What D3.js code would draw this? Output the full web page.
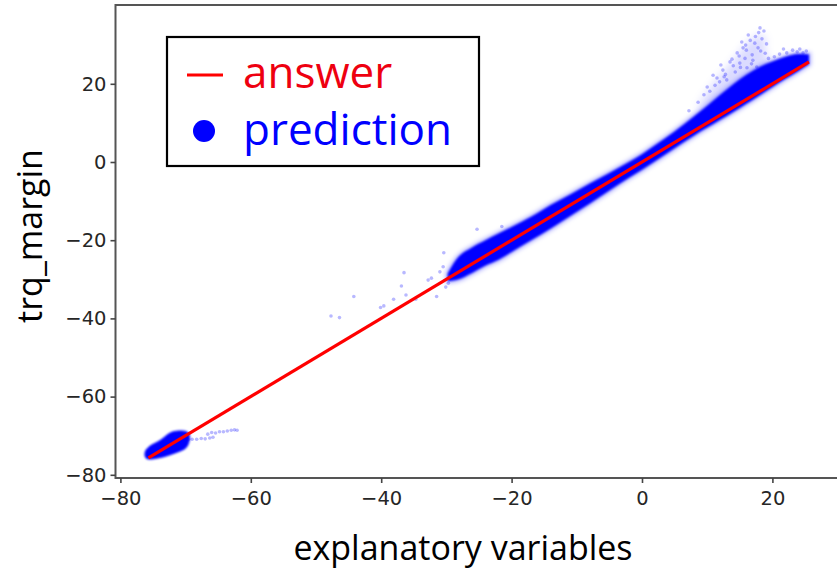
<!DOCTYPE html>
<html><head><meta charset="utf-8">
<script src="https://cdn.jsdelivr.net/npm/d3@7"></script>
<style>
  body { margin: 0; background: #fff; }
  .tick text { font-family: "DejaVu Sans", sans-serif; font-size: 19.5px; fill: #262626; }
  .tick line { stroke: #444; stroke-width: 1.6; }
  .lbl { font-family: "Open Sans", sans-serif; fill: #000; }
</style>
</head><body>
<svg id="chart" width="837" height="571"></svg>
<script>
// tick values
const xTicks = [-80, -60, -40, -20, 0, 20];
const yTicks = [-80, -60, -40, -20, 0, 20];

// "answer": the identity line
const answerX = [-75.7, 25.6];
const answerY = [-75.7, 25.6];

// dense prediction band: x with lower and upper envelope
const bandX    = [-29.8, -28.5, -26, -24, -22, -20, -17, -14, -11, -8, -5, -2, 0, 2, 5, 8, 10, 12, 14, 16, 18, 20, 22, 24, 25.6];
const bandLow  = [-30.5, -30.2, -28.3, -26.5, -25, -23, -20, -17, -13.8, -10.6, -7.3, -4, -2, 0.2, 3.5, 6.8, 8.8, 10.8, 12.8, 14.9, 17, 19.2, 21.3, 23.3, 25];
const bandHigh = [-28.5, -25, -21.8, -20, -18.3, -16.6, -14, -11, -8.3, -5.5, -2.8, 0, 2, 4.3, 7.8, 11.7, 14.4, 17.2, 19.9, 22.3, 24.3, 25.7, 26.9, 27.6, 27.5];

// cluster of predictions at the low end
const blobX = [-76.2, -75.5, -73.9, -72.1, -70.0, -69.4, -69.9, -71.6, -73.9, -75.9];
const blobY = [-74.2, -72.7, -71.2, -69.1, -68.9, -70.3, -73.0, -74.4, -75.6, -75.9];

// faint over-prediction wedge above the band
const sprayX = [8.5, 10.5, 12.5, 14.5, 16.2, 18.0, 18.9, 18.8, 19.5, 17.5, 14.5, 11];
const sprayY = [13.6, 19.0, 23.0, 27.0, 30.5, 32.5, 31.5, 28.5, 26.0, 23.5, 20, 15.2];

// individual sparse predictions
const scatterX = [
  16.3, 18.1, 18.7, 15.3, 17.3, 16, 14.6, 16.9, 13.5, 15, 12.4, 14.3, 17.6, 11.5, 13, 10.9, 10, 22.2, 23.8, 24.7,
  17.8, 15.8, 17, 14, 18.4, 16.6, 15.5, 12.8, 11.9, 9.5, 8.6, 7.2, 18.9, 19.4, 12.1, 16.1,
  15.9, 17.4, 18.2, 16.8, 14.9, 13.8, 19.1, 17.9, 15.1, 12.6, 11.2, 10.4, 20.3, 21.1, 23.1, 25.2, 21.7, 24.2,
  -47.7, -46.4, -44.2, -40.1, -39.6, -38.1, -36.9, -36.5, -36.2, -34.7, -32.8, -32.3, -31.5, -30.4, -30.1, -29.7, -25.3, -21.5, -30.5, -31.0,
  -69.6, -69.0, -68.3, -67.6, -67.0, -66.3, -65.8,
  -66.6, -66.0, -65.4, -64.8, -64.2, -63.6, -63.0, -62.5, -62.1
];
const scatterY = [
  32.5, 34.3, 33.5, 30.7, 30.4, 28.6, 27.9, 27.4, 25.6, 25.3, 23.5, 23, 24.3, 21.5, 21, 22.2, 19.2, 27.9, 28.2, 27.9,
  29.2, 26.5, 26, 24.6, 31.5, 31.1, 29.2, 22.4, 20.5, 17.2, 15.3, 13.1, 27.8, 26.5, 24.8, 24.1,
  29.9, 32.1, 28.4, 25.1, 27.1, 26.3, 30.2, 33.1, 24.2, 21.8, 19.6, 18.1, 26.9, 27.6, 28.6, 28.4, 28.9, 28.9,
  -39.4, -39.8, -34.4, -37.2, -36.8, -35.1, -31.7, -28.3, -34.0, -35.1, -30.2, -29.7, -34.4, -23.2, -32.0, -31.0, -17.2, -16.5, -26.8, -28.1,
  -71.0, -70.9, -70.9, -70.7, -70.8, -70.6, -70.4,
  -69.6, -69.2, -69.3, -69.0, -69.0, -68.8, -68.6, -68.5, -68.6
];

const svg = d3.select("#chart");
const x = d3.scaleLinear().domain([-80, 20]).range([120.4, 772.4]);
const y = d3.scaleLinear().domain([-80, 20]).range([474.8, 83.8]);

const frame = { left: 115.5, top: 5, right: 850, bottom: 478 };

const defs = svg.append("defs");
const addBlur = (id, sd) => defs.append("filter").attr("id", id)
  .attr("x", "-30%").attr("y", "-30%").attr("width", "160%").attr("height", "160%")
  .append("feGaussianBlur").attr("stdDeviation", sd);
addBlur("soft", 1.1);
addBlur("haze", 2.2);
addBlur("mist", 4.5);
addBlur("dot", 0.7);

const plot = svg.append("g");

// faint wedge
plot.append("path")
  .datum(d3.range(sprayX.length))
  .attr("d", d3.line().x(i => x(sprayX[i])).y(i => y(sprayY[i])).curve(d3.curveCardinalClosed))
  .attr("fill", "#0000ff").attr("fill-opacity", 0.14).attr("filter", "url(#mist)");

// band
const bandArea = d3.area()
  .x(i => x(bandX[i])).y0(i => y(bandLow[i])).y1(i => y(bandHigh[i]))
  .curve(d3.curveMonotoneX);
const idx = d3.range(bandX.length);
plot.append("path").datum(idx).attr("d", bandArea)
  .attr("fill", "#0000ff").attr("fill-opacity", 0.25)
  .attr("stroke", "#0000ff").attr("stroke-opacity", 0.22).attr("stroke-width", 5)
  .attr("filter", "url(#haze)");
plot.append("path").datum(idx).attr("d", bandArea)
  .attr("fill", "#0000ff").attr("filter", "url(#soft)");

// low-end cluster
plot.append("path")
  .datum(d3.range(blobX.length))
  .attr("d", d3.line().x(i => x(blobX[i])).y(i => y(blobY[i])).curve(d3.curveCardinalClosed))
  .attr("fill", "#0000ff").attr("stroke", "#0000ff").attr("stroke-width", 1).attr("filter", "url(#soft)");

// sparse points
plot.append("g").attr("filter", "url(#dot)").selectAll("circle")
  .data(d3.range(scatterX.length))
  .join("circle")
  .attr("cx", i => x(scatterX[i])).attr("cy", i => y(scatterY[i]))
  .attr("r", 1.8)
  .attr("fill", "#0000ff").attr("fill-opacity", 0.28);

// answer line
plot.append("path")
  .datum(d3.range(answerX.length))
  .attr("d", d3.line().x(i => x(answerX[i])).y(i => y(answerY[i])))
  .attr("stroke", "#ff0000").attr("stroke-width", 3.2).attr("fill", "none");

// frame
svg.append("rect")
  .attr("x", frame.left).attr("y", frame.top)
  .attr("width", frame.right - frame.left).attr("height", frame.bottom - frame.top)
  .attr("fill", "none").attr("stroke", "#555").attr("stroke-width", 2);

// axes
const xAxis = svg.append("g").attr("transform", `translate(0,${frame.bottom})`)
  .call(d3.axisBottom(x).tickValues(xTicks).tickSize(5).tickPadding(8));
xAxis.select(".domain").remove();

const yAxis = svg.append("g").attr("transform", `translate(${frame.left},0)`)
  .call(d3.axisLeft(y).tickValues(yTicks).tickSize(5).tickPadding(4));
yAxis.select(".domain").remove();

// axis titles
svg.append("text").attr("class", "lbl")
  .attr("x", 463).attr("y", 560).attr("text-anchor", "middle")
  .attr("font-size", 34).text("explanatory variables");
svg.append("text").attr("class", "lbl")
  .attr("transform", "translate(42,236) rotate(-90)").attr("text-anchor", "middle")
  .attr("font-size", 34).text("trq_margin");

// legend
const lg = svg.append("g");
lg.append("rect").attr("x", 167).attr("y", 37).attr("width", 312).attr("height", 129)
  .attr("fill", "#fff").attr("stroke", "#000").attr("stroke-width", 2.2);
lg.append("line").attr("x1", 187).attr("x2", 223).attr("y1", 75).attr("y2", 75)
  .attr("stroke", "#ff0000").attr("stroke-width", 3.2);
lg.append("circle").attr("cx", 204).attr("cy", 131).attr("r", 11).attr("fill", "#0000ff");
lg.append("text").attr("class", "lbl").attr("x", 243).attr("y", 88)
  .attr("font-size", 44).style("fill", "#ee0010").text("answer");
lg.append("text").attr("class", "lbl").attr("x", 243).attr("y", 145)
  .attr("font-size", 44).style("fill", "#0000ff").text("prediction");
</script>
</body></html>
